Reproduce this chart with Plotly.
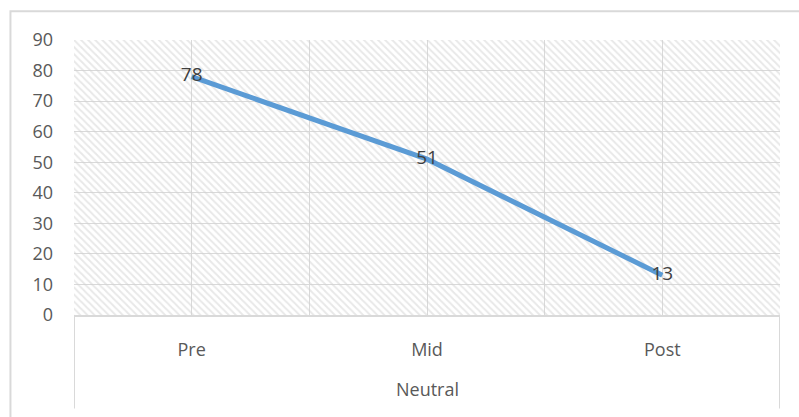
import plotly.graph_objects as go

# Survey share over the three phases of the "Neutral" group
categories = ["Pre", "Mid", "Post"]
values = [78, 51, 13]
group_label = "Neutral"
y_ticks = [0, 10, 20, 30, 40, 50, 60, 70, 80, 90]

FONT = "Open Sans"
GRID = "#d9d9d9"
TEXT = "#595959"

x_pos = list(range(len(categories)))
x_lo, x_hi = -0.5, len(categories) - 0.5
y_max = y_ticks[-1]

fig = go.Figure()

# Hatched plot-area background
fig.add_trace(go.Scatter(
    x=[x_lo, x_hi, x_hi, x_lo, x_lo],
    y=[0, 0, y_max, y_max, 0],
    mode="lines", line=dict(width=0), fill="toself",
    fillcolor="rgba(0,0,0,0)",
    fillpattern=dict(shape="\\", size=5, solidity=0.4,
                     fgcolor="#d2d2d2", bgcolor="rgba(0,0,0,0)"),
    hoverinfo="skip", showlegend=False,
))

# Main series with value labels centred on the points
fig.add_trace(go.Scatter(
    x=x_pos, y=values, mode="lines+text",
    line=dict(color="#5b9bd5", width=5),
    text=[str(v) for v in values], textposition="middle center",
    textfont=dict(family=FONT, size=19, color="#404040"),
    showlegend=False, cliponaxis=False,
))

# Vertical gridlines at each category centre and between categories
grid_x = [i * 0.5 for i in range(0, 2 * len(categories) - 1)]
grid_text = [categories[int(g)] if g == int(g) else "" for g in grid_x]

fig.update_layout(
    width=799, height=417,
    margin=dict(l=74, r=19, t=40, b=102),
    paper_bgcolor="white", plot_bgcolor="white",
    font=dict(family=FONT, color=TEXT, size=18),
    xaxis=dict(range=[x_lo, x_hi], tickvals=grid_x, ticktext=grid_text,
               showgrid=True, gridcolor=GRID, gridwidth=1,
               zeroline=False, showline=True, linecolor=GRID, linewidth=2,
               ticks="", ticklen=0, ticklabelstandoff=17,
               tickfont=dict(size=18, color=TEXT)),
    yaxis=dict(range=[0, y_max], tickvals=y_ticks,
               showgrid=True, gridcolor=GRID, gridwidth=1,
               zeroline=False, showline=False, ticks="",
               ticklabelstandoff=20,
               tickfont=dict(size=18, color=TEXT)),
    annotations=[dict(
        x=1, xref="x", y=-0.27, yref="paper", text=group_label,
        showarrow=False, yanchor="middle",
        font=dict(family=FONT, size=18, color=TEXT),
    )],
    shapes=[
        # Category-group separators below the axis
        dict(type="line", xref="x", yref="paper", x0=x_lo, x1=x_lo,
             y0=0, y1=-0.34, line=dict(color=GRID, width=2)),
        dict(type="line", xref="x", yref="paper", x0=x_hi, x1=x_hi,
             y0=0, y1=-0.34, line=dict(color=GRID, width=2)),
        # Chart-area border
        dict(type="rect", xref="paper", yref="paper",
             x0=-0.09, x1=1.05, y0=-0.5, y1=1.105,
             line=dict(color=GRID, width=2), layer="below"),
    ],
)

fig.write_html("out.html")
